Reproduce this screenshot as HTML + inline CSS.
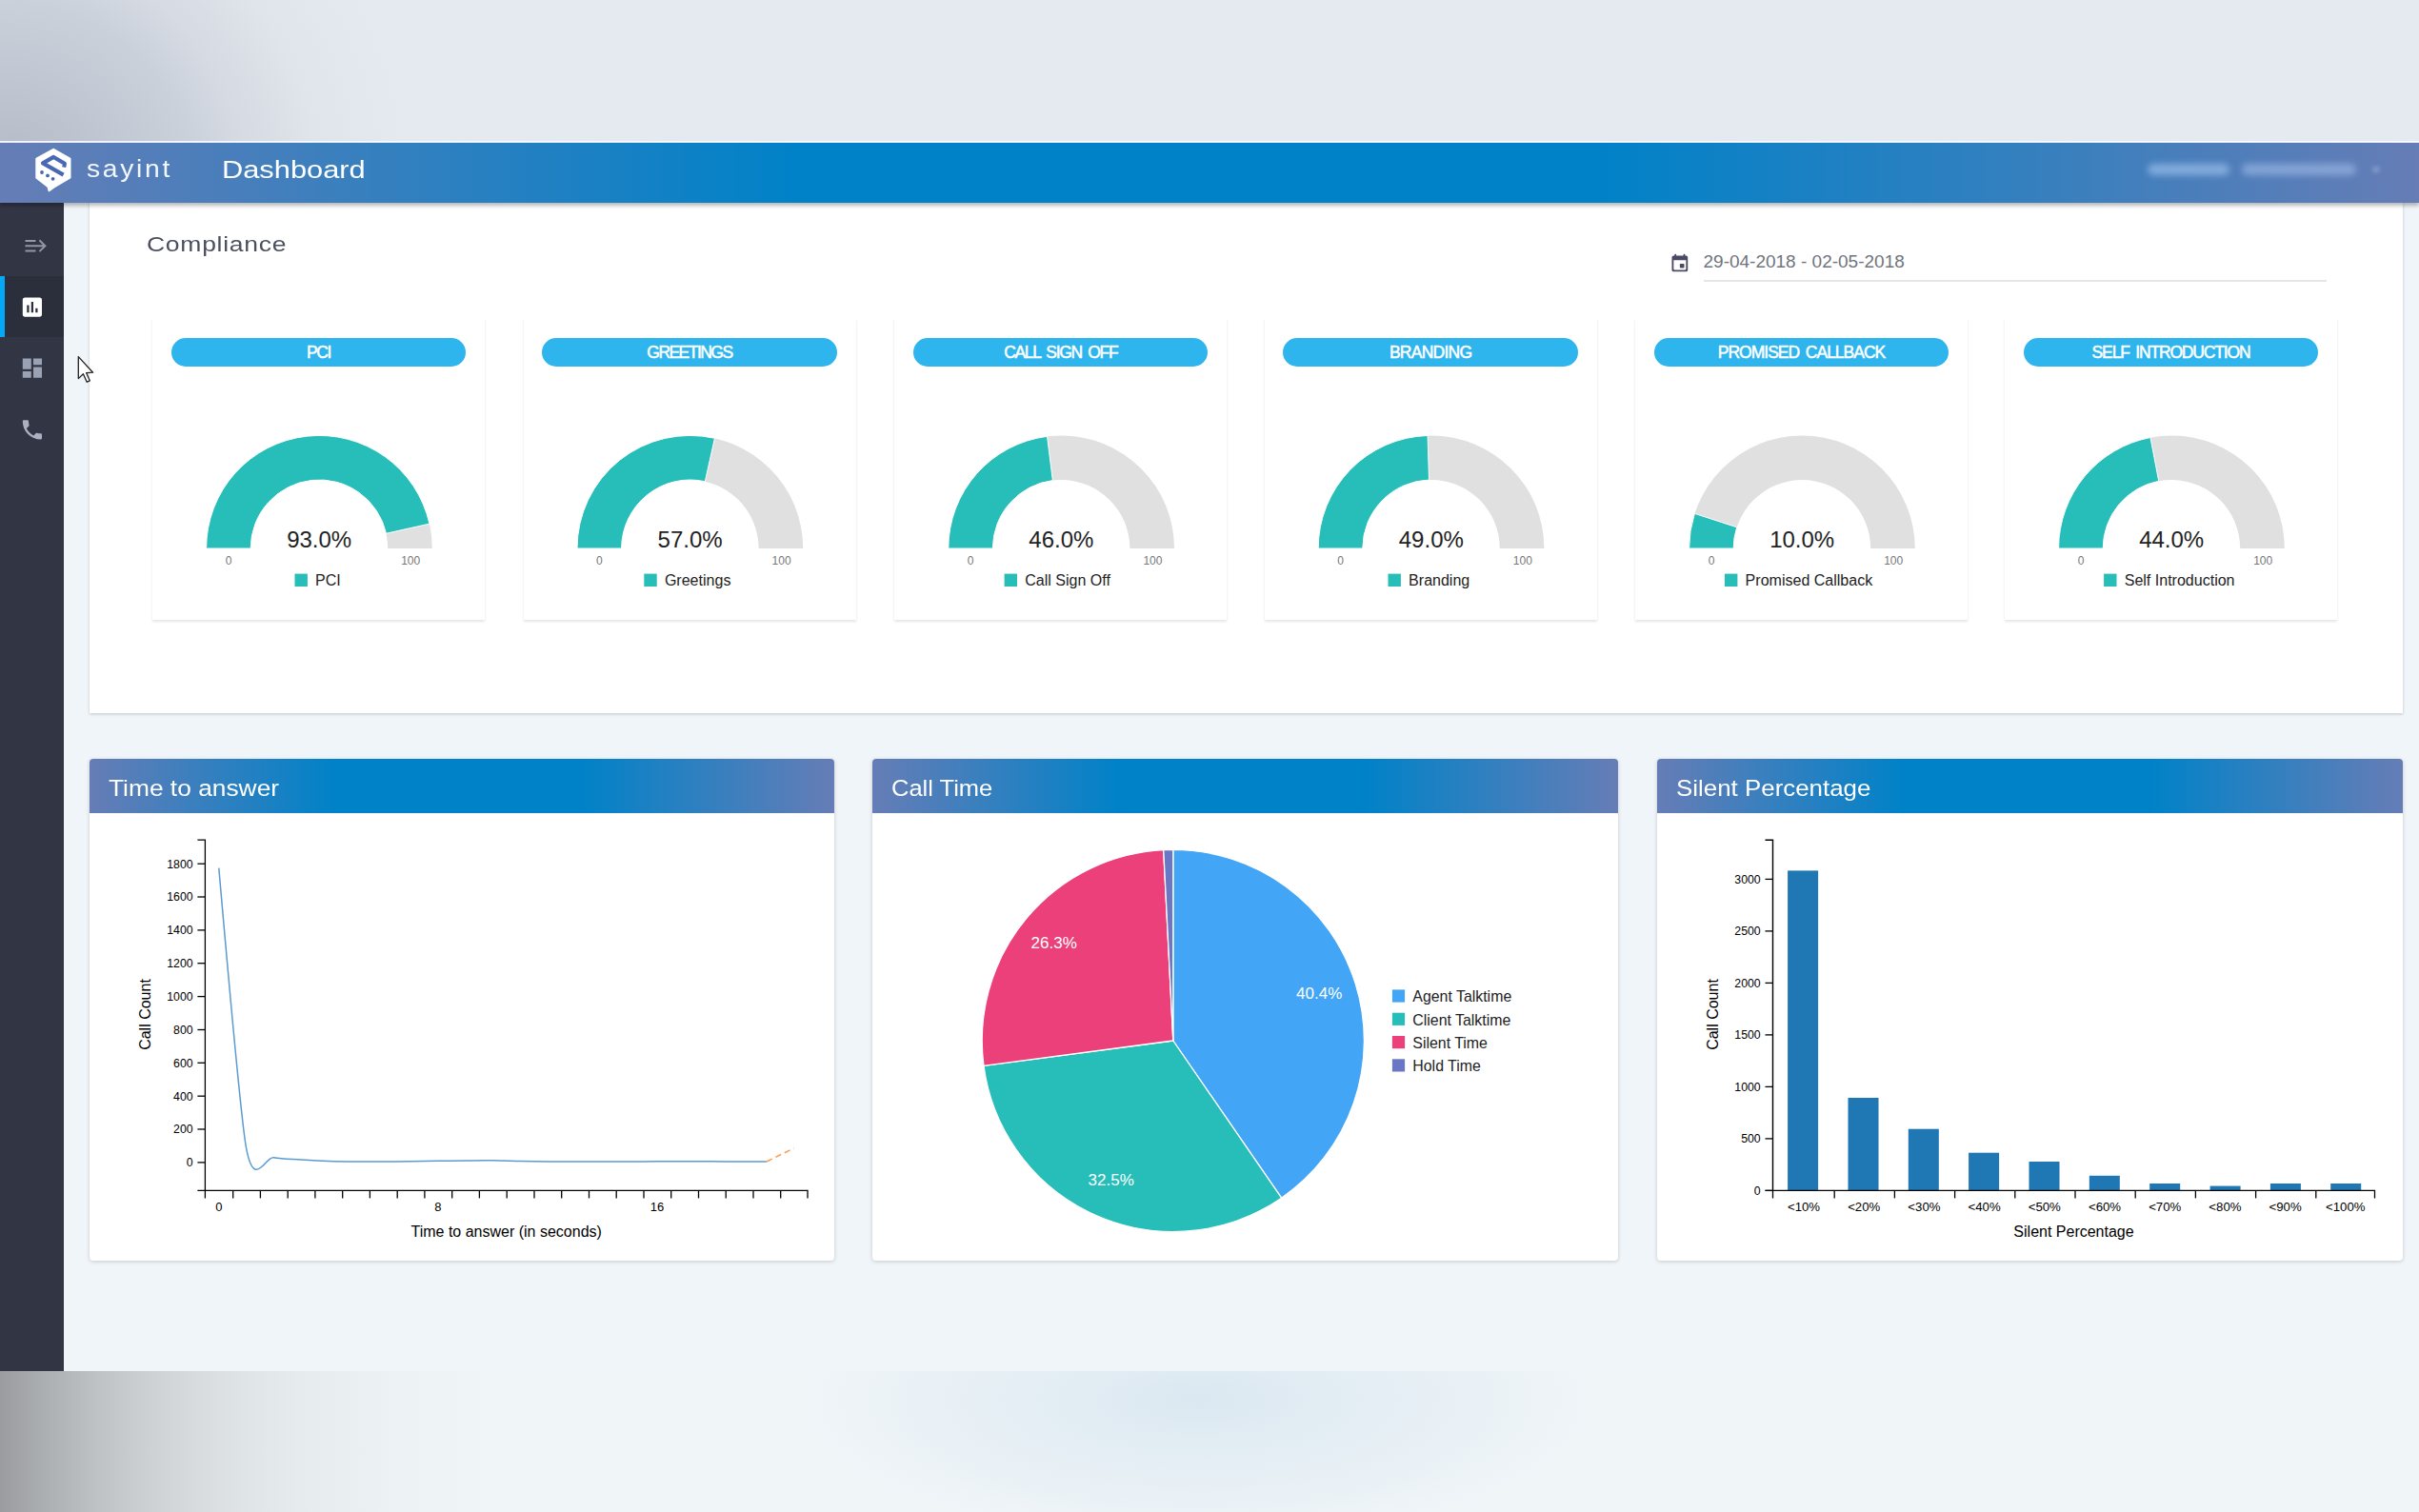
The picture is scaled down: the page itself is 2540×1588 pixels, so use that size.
<!DOCTYPE html>
<html lang="en"><head><meta charset="utf-8"><title>sayint Dashboard</title>
<style>
html,body{margin:0;padding:0}
body{width:2540px;height:1588px;position:relative;overflow:hidden;background:#f0f5f9;font-family:"Liberation Sans", Arial, sans-serif;}
.abs{position:absolute}
.t{position:absolute;white-space:nowrap;line-height:1;transform-origin:0 0}
svg{position:absolute;left:0;top:0;overflow:visible}
svg text{font-family:"Liberation Sans", Arial, sans-serif}
.card{position:absolute;background:#fff}
.gcard{position:absolute;top:334px;width:349px;height:317px;background:#fff;box-shadow:0 1.5px 2.5px rgba(0,0,0,.10),0 0 2px rgba(0,0,0,.022)}
.pill{position:absolute;left:19.6px;top:20.5px;width:309.5px;height:30.5px;border-radius:16px;background:#2fb5ee;color:#fff;text-align:center;font-weight:normal;-webkit-text-stroke:.5px #fff;font-size:17.5px;line-height:31px;white-space:nowrap}
.panel{position:absolute;top:797px;width:782px;height:527px;background:#fff;border-radius:4px;box-shadow:0 1px 4px rgba(0,0,0,.18)}
.phead{position:absolute;left:0;top:0;right:0;height:57px;border-radius:4px 4px 0 0;background:linear-gradient(to right,#667db6 0%,#0082c8 33%,#0082c8 66%,#667db6 100%)}
.ptitle{position:absolute;left:20px;top:1.8px;color:#fff;font-size:24.5px;line-height:57px;white-space:nowrap;transform-origin:0 50%}
</style></head><body>

<div class="abs" id="bgtop" style="left:0;top:0;width:2540px;height:149px;background:radial-gradient(ellipse 430px 420px at 0px 200px,#b3b9c6 0%,#b7bdc9 12%,#c4cad5 34%,#cbd1da 48%,#d5dae3 60%,#e0e5eb 78%,#e4eaf0 100%),#e4eaf0"></div>
<div class="abs" id="bgbot" style="left:0;top:1440px;width:2540px;height:148px;background:linear-gradient(to right,#9a9c9f 0px,#aeb1b4 52px,#c0c3c6 105px,#cdd1d4 157px,#d8dcdf 210px,#e0e5e7 262px,#e6ebed 315px,#edf2f4 420px,rgba(240,245,247,0) 525px),radial-gradient(ellipse 420px 150px at 1260px 30px,#dbe8f1 0%,rgba(240,245,248,0) 100%),#f0f5f8"></div>
<div class="abs" style="left:67px;top:212px;width:2473px;height:1228px;background:#f0f5f9"></div>
<div class="card" id="compliance" style="left:93.5px;top:205px;width:2429px;height:543.5px;box-shadow:0 1px 3px rgba(0,0,0,.2)"></div>
<div class="t" style="left:153.6px;top:246.2px;font-size:22px;color:#4b5060;letter-spacing:.6px;transform:scaleX(1.205)">Compliance</div>
<svg width="2540" height="1588" style="pointer-events:none"><g transform="translate(1752.7,264.8) scale(0.93)" fill="#4a4a66"><path d="M16 13h-3c-.55 0-1 .45-1 1v3c0 .55.45 1 1 1h3c.55 0 1-.45 1-1v-3c0-.55-.45-1-1-1zm0-10v1H8V3c0-.55-.45-1-1-1s-1 .45-1 1v1H5c-1.11 0-1.99.9-1.99 2L3 20c0 1.1.89 2 2 2h14c1.1 0 2-.9 2-2V6c0-1.1-.9-2-2-2h-1V3c0-.55-.45-1-1-1s-1 .45-1 1zm2 17H6c-.55 0-1-.45-1-1V9h14v10c0 .55-.45 1-1 1z"/></g></svg>
<div class="t" style="left:1788.5px;top:264.5px;font-size:19px;color:#70757d">29-04-2018 - 02-05-2018</div>
<div class="abs" style="left:1788.5px;top:294.2px;width:654.5px;height:1.7px;background:#e4e6ea"></div>
<div class="gcard" style="left:160.2px"><div class="pill" style="letter-spacing:-1.4000000000000004px;word-spacing:2.8px">PCI</div></div>
<div class="gcard" style="left:549.6px"><div class="pill" style="letter-spacing:-1.5374999999999996px;word-spacing:2.8px">GREETINGS</div></div>
<div class="gcard" style="left:939.4px"><div class="pill" style="letter-spacing:-1.308333333333333px;word-spacing:2.8px">CALL SIGN OFF</div></div>
<div class="gcard" style="left:1327.8px"><div class="pill" style="letter-spacing:-0.7428571428571432px;word-spacing:2.8px">BRANDING</div></div>
<div class="gcard" style="left:1717.2px"><div class="pill" style="letter-spacing:-0.9937499999999997px;word-spacing:2.8px">PROMISED CALLBACK</div></div>
<div class="gcard" style="left:2105.2px"><div class="pill" style="letter-spacing:-1.1625000000000008px;word-spacing:2.8px">SELF INTRODUCTION</div></div>
<svg width="2540" height="1588">
<path d="M216.60 576 A118.6 118.6 0 0 1 453.80 576 L407.20 576 A72 72 0 0 0 263.20 576 Z" fill="#e0e0e0"/>
<path d="M216.60 576 A118.6 118.6 0 0 1 450.94 550.13 L405.47 560.29 A72 72 0 0 0 263.20 576 Z" fill="#27bdb8" stroke="#fff" stroke-width="1"/>
<text x="335.2" y="574.5" text-anchor="middle" font-size="24" fill="#222">93.0%</text>
<text x="240.0" y="592.8" text-anchor="middle" font-size="12" fill="#777">0</text>
<text x="431.2" y="592.8" text-anchor="middle" font-size="12" fill="#777">100</text>
<rect x="309.5" y="602.6" width="13.4" height="13.4" fill="#27bdb8"/>
<text x="331.1" y="615.4" font-size="16.05" fill="#222">PCI</text>
<path d="M606.00 576 A118.6 118.6 0 0 1 843.20 576 L796.60 576 A72 72 0 0 0 652.60 576 Z" fill="#e0e0e0"/>
<path d="M606.00 576 A118.6 118.6 0 0 1 750.47 460.26 L740.31 505.73 A72 72 0 0 0 652.60 576 Z" fill="#27bdb8" stroke="#fff" stroke-width="1"/>
<text x="724.6" y="574.5" text-anchor="middle" font-size="24" fill="#222">57.0%</text>
<text x="629.4" y="592.8" text-anchor="middle" font-size="12" fill="#777">0</text>
<text x="820.6" y="592.8" text-anchor="middle" font-size="12" fill="#777">100</text>
<rect x="676.3" y="602.6" width="13.4" height="13.4" fill="#27bdb8"/>
<text x="697.9" y="615.4" font-size="16.05" fill="#222">Greetings</text>
<path d="M995.80 576 A118.6 118.6 0 0 1 1233.00 576 L1186.40 576 A72 72 0 0 0 1042.40 576 Z" fill="#e0e0e0"/>
<path d="M995.80 576 A118.6 118.6 0 0 1 1099.54 458.34 L1105.38 504.57 A72 72 0 0 0 1042.40 576 Z" fill="#27bdb8" stroke="#fff" stroke-width="1"/>
<text x="1114.4" y="574.5" text-anchor="middle" font-size="24" fill="#222">46.0%</text>
<text x="1019.2" y="592.8" text-anchor="middle" font-size="12" fill="#777">0</text>
<text x="1210.4" y="592.8" text-anchor="middle" font-size="12" fill="#777">100</text>
<rect x="1054.6" y="602.6" width="13.4" height="13.4" fill="#27bdb8"/>
<text x="1076.2" y="615.4" font-size="16.05" fill="#222">Call Sign Off</text>
<path d="M1384.20 576 A118.6 118.6 0 0 1 1621.40 576 L1574.80 576 A72 72 0 0 0 1430.80 576 Z" fill="#e0e0e0"/>
<path d="M1384.20 576 A118.6 118.6 0 0 1 1499.07 457.46 L1500.54 504.04 A72 72 0 0 0 1430.80 576 Z" fill="#27bdb8" stroke="#fff" stroke-width="1"/>
<text x="1502.8" y="574.5" text-anchor="middle" font-size="24" fill="#222">49.0%</text>
<text x="1407.6" y="592.8" text-anchor="middle" font-size="12" fill="#777">0</text>
<text x="1598.8" y="592.8" text-anchor="middle" font-size="12" fill="#777">100</text>
<rect x="1457.5" y="602.6" width="13.4" height="13.4" fill="#27bdb8"/>
<text x="1479.1" y="615.4" font-size="16.05" fill="#222">Branding</text>
<path d="M1773.60 576 A118.6 118.6 0 0 1 2010.80 576 L1964.20 576 A72 72 0 0 0 1820.20 576 Z" fill="#e0e0e0"/>
<path d="M1773.60 576 A118.6 118.6 0 0 1 1779.40 539.35 L1823.72 553.75 A72 72 0 0 0 1820.20 576 Z" fill="#27bdb8" stroke="#fff" stroke-width="1"/>
<text x="1892.2" y="574.5" text-anchor="middle" font-size="24" fill="#222">10.0%</text>
<text x="1797.0" y="592.8" text-anchor="middle" font-size="12" fill="#777">0</text>
<text x="1988.2" y="592.8" text-anchor="middle" font-size="12" fill="#777">100</text>
<rect x="1811.0" y="602.6" width="13.4" height="13.4" fill="#27bdb8"/>
<text x="1832.6" y="615.4" font-size="16.05" fill="#222">Promised Callback</text>
<path d="M2161.60 576 A118.6 118.6 0 0 1 2398.80 576 L2352.20 576 A72 72 0 0 0 2208.20 576 Z" fill="#e0e0e0"/>
<path d="M2161.60 576 A118.6 118.6 0 0 1 2257.98 459.50 L2266.71 505.28 A72 72 0 0 0 2208.20 576 Z" fill="#27bdb8" stroke="#fff" stroke-width="1"/>
<text x="2280.2" y="574.5" text-anchor="middle" font-size="24" fill="#222">44.0%</text>
<text x="2185.0" y="592.8" text-anchor="middle" font-size="12" fill="#777">0</text>
<text x="2376.2" y="592.8" text-anchor="middle" font-size="12" fill="#777">100</text>
<rect x="2209.1" y="602.6" width="13.4" height="13.4" fill="#27bdb8"/>
<text x="2230.7" y="615.4" font-size="16.05" fill="#222">Self Introduction</text>
</svg>
<div class="panel" style="left:94.2px;width:781.6px"><div class="phead"></div><div class="ptitle" style="transform:scaleX(1.075)">Time to answer</div></div>
<div class="panel" style="left:916.2px;width:783.2px"><div class="phead"></div><div class="ptitle" style="transform:scaleX(1.04)">Call Time</div></div>
<div class="panel" style="left:1740.3px;width:782.3px"><div class="phead"></div><div class="ptitle" style="transform:scaleX(1.057)">Silent Percentage</div></div>
<svg width="2540" height="1588" font-size="13" fill="#000">
<path d="M207.4 882.2 H215.4 V1250.4 H207.4" fill="none" stroke="#000" stroke-width="1.3"/>
<path d="M215.4 1258.4 V1250.4 H848.0 V1258.4" fill="none" stroke="#000" stroke-width="1.3"/>
<path d="M207.4 1220.9 H215.4" stroke="#000" stroke-width="1.3"/>
<text x="202.6" y="1225.3" text-anchor="end" font-size="12.3">0</text>
<path d="M207.4 1186.0 H215.4" stroke="#000" stroke-width="1.3"/>
<text x="202.6" y="1190.4" text-anchor="end" font-size="12.3">200</text>
<path d="M207.4 1151.2 H215.4" stroke="#000" stroke-width="1.3"/>
<text x="202.6" y="1155.6" text-anchor="end" font-size="12.3">400</text>
<path d="M207.4 1116.3 H215.4" stroke="#000" stroke-width="1.3"/>
<text x="202.6" y="1120.7" text-anchor="end" font-size="12.3">600</text>
<path d="M207.4 1081.5 H215.4" stroke="#000" stroke-width="1.3"/>
<text x="202.6" y="1085.9" text-anchor="end" font-size="12.3">800</text>
<path d="M207.4 1046.6 H215.4" stroke="#000" stroke-width="1.3"/>
<text x="202.6" y="1051.0" text-anchor="end" font-size="12.3">1000</text>
<path d="M207.4 1011.7 H215.4" stroke="#000" stroke-width="1.3"/>
<text x="202.6" y="1016.1" text-anchor="end" font-size="12.3">1200</text>
<path d="M207.4 976.9 H215.4" stroke="#000" stroke-width="1.3"/>
<text x="202.6" y="981.3" text-anchor="end" font-size="12.3">1400</text>
<path d="M207.4 942.0 H215.4" stroke="#000" stroke-width="1.3"/>
<text x="202.6" y="946.4" text-anchor="end" font-size="12.3">1600</text>
<path d="M207.4 907.2 H215.4" stroke="#000" stroke-width="1.3"/>
<text x="202.6" y="911.6" text-anchor="end" font-size="12.3">1800</text>
<path d="M244.7 1250.4 V1258.4" stroke="#000" stroke-width="1.3"/>
<path d="M273.4 1250.4 V1258.4" stroke="#000" stroke-width="1.3"/>
<path d="M302.2 1250.4 V1258.4" stroke="#000" stroke-width="1.3"/>
<path d="M330.9 1250.4 V1258.4" stroke="#000" stroke-width="1.3"/>
<path d="M359.7 1250.4 V1258.4" stroke="#000" stroke-width="1.3"/>
<path d="M388.4 1250.4 V1258.4" stroke="#000" stroke-width="1.3"/>
<path d="M417.2 1250.4 V1258.4" stroke="#000" stroke-width="1.3"/>
<path d="M445.9 1250.4 V1258.4" stroke="#000" stroke-width="1.3"/>
<path d="M474.7 1250.4 V1258.4" stroke="#000" stroke-width="1.3"/>
<path d="M503.4 1250.4 V1258.4" stroke="#000" stroke-width="1.3"/>
<path d="M532.2 1250.4 V1258.4" stroke="#000" stroke-width="1.3"/>
<path d="M561.0 1250.4 V1258.4" stroke="#000" stroke-width="1.3"/>
<path d="M589.7 1250.4 V1258.4" stroke="#000" stroke-width="1.3"/>
<path d="M618.5 1250.4 V1258.4" stroke="#000" stroke-width="1.3"/>
<path d="M647.2 1250.4 V1258.4" stroke="#000" stroke-width="1.3"/>
<path d="M676.0 1250.4 V1258.4" stroke="#000" stroke-width="1.3"/>
<path d="M704.7 1250.4 V1258.4" stroke="#000" stroke-width="1.3"/>
<path d="M733.5 1250.4 V1258.4" stroke="#000" stroke-width="1.3"/>
<path d="M762.2 1250.4 V1258.4" stroke="#000" stroke-width="1.3"/>
<path d="M791.0 1250.4 V1258.4" stroke="#000" stroke-width="1.3"/>
<path d="M819.7 1250.4 V1258.4" stroke="#000" stroke-width="1.3"/>
<text x="229.8" y="1272.4" text-anchor="middle">0</text>
<text x="459.8" y="1272.4" text-anchor="middle">8</text>
<text x="689.9" y="1272.4" text-anchor="middle">16</text>
<text x="531.7" y="1298.5" text-anchor="middle" font-size="16">Time to answer (in seconds)</text>
<text transform="translate(157.5,1065.5) rotate(-90)" text-anchor="middle" font-size="16">Call Count</text>
<path d="M229.78,911.69Q252.78,1175.15,258.53,1205.56C267.16,1251.18,278.66,1213.99,287.29,1215.85C295.91,1217.70,307.41,1217.39,316.04,1217.94C324.67,1218.49,336.17,1219.19,344.80,1219.51C353.42,1219.82,364.92,1219.95,373.55,1220.03C382.18,1220.11,393.68,1220.05,402.30,1220.03C410.93,1220.00,422.43,1219.96,431.06,1219.85C439.69,1219.75,451.19,1219.46,459.81,1219.33C468.44,1219.20,479.94,1219.06,488.57,1218.98C497.19,1218.90,508.70,1218.73,517.32,1218.81C525.95,1218.89,537.45,1219.32,546.08,1219.51C554.70,1219.69,566.21,1219.95,574.83,1220.03C583.46,1220.11,594.96,1220.03,603.59,1220.03C612.21,1220.03,623.71,1220.03,632.34,1220.03C640.97,1220.03,652.47,1220.05,661.10,1220.03C669.72,1220.00,681.22,1219.88,689.85,1219.85C698.48,1219.83,709.98,1219.85,718.60,1219.85C727.23,1219.85,738.73,1219.83,747.36,1219.85C755.99,1219.88,767.49,1220.00,776.11,1220.03Q781.86,1220.05,804.87,1220.03" fill="none" stroke="#5b9bcf" stroke-width="1.5"/>
<path d="M804.9 1220.0 L833.6 1206" fill="none" stroke="#ff9a4d" stroke-width="1.5" stroke-dasharray="6.5 4"/>
</svg>
<svg width="2540" height="1588">
<path d="M1231.8 1093.0 L1231.80 892.40 A200.6 200.6 0 0 1 1345.59 1258.20 Z" fill="#42a5f5" stroke="#fff" stroke-width="1.3"/>
<path d="M1231.8 1093.0 L1345.59 1258.20 A200.6 200.6 0 0 1 1032.94 1119.39 Z" fill="#27bdb8" stroke="#fff" stroke-width="1.3"/>
<path d="M1231.8 1093.0 L1032.94 1119.39 A200.6 200.6 0 0 1 1221.72 892.65 Z" fill="#ec407a" stroke="#fff" stroke-width="1.3"/>
<path d="M1231.8 1093.0 L1221.72 892.65 A200.6 200.6 0 0 1 1231.80 892.40 Z" fill="#6a77c4" stroke="#fff" stroke-width="1.3"/>
<text x="1385.2" y="1049.2" text-anchor="middle" font-size="17" fill="#fff">40.4%</text>
<text x="1106.7" y="995.5" text-anchor="middle" font-size="17" fill="#fff">26.3%</text>
<text x="1166.7" y="1245.4" text-anchor="middle" font-size="17" fill="#fff">32.5%</text>
<rect x="1461.9" y="1039.4" width="13.2" height="13.2" fill="#42a5f5"/>
<text x="1483.3" y="1052.2" font-size="15.9" fill="#222">Agent Talktime</text>
<rect x="1461.9" y="1063.7" width="13.2" height="13.2" fill="#27bdb8"/>
<text x="1483.3" y="1076.5" font-size="15.9" fill="#222">Client Talktime</text>
<rect x="1461.9" y="1088.0" width="13.2" height="13.2" fill="#ec407a"/>
<text x="1483.3" y="1100.8" font-size="15.9" fill="#222">Silent Time</text>
<rect x="1461.9" y="1112.3" width="13.2" height="13.2" fill="#6a77c4"/>
<text x="1483.3" y="1125.1" font-size="15.9" fill="#222">Hold Time</text>
</svg>
<svg width="2540" height="1588" font-size="13" fill="#000">
<path d="M1853.5 882.2 H1861.5 V1250.4 H1853.5" fill="none" stroke="#000" stroke-width="1.4"/>
<path d="M1853.5 1250.4 H1861.5" stroke="#000" stroke-width="1.3"/>
<text x="1848.7" y="1254.8" text-anchor="end" font-size="12.3">0</text>
<path d="M1853.5 1195.9 H1861.5" stroke="#000" stroke-width="1.3"/>
<text x="1848.7" y="1200.3" text-anchor="end" font-size="12.3">500</text>
<path d="M1853.5 1141.4 H1861.5" stroke="#000" stroke-width="1.3"/>
<text x="1848.7" y="1145.8" text-anchor="end" font-size="12.3">1000</text>
<path d="M1853.5 1086.9 H1861.5" stroke="#000" stroke-width="1.3"/>
<text x="1848.7" y="1091.3" text-anchor="end" font-size="12.3">1500</text>
<path d="M1853.5 1032.4 H1861.5" stroke="#000" stroke-width="1.3"/>
<text x="1848.7" y="1036.8" text-anchor="end" font-size="12.3">2000</text>
<path d="M1853.5 977.9 H1861.5" stroke="#000" stroke-width="1.3"/>
<text x="1848.7" y="982.3" text-anchor="end" font-size="12.3">2500</text>
<path d="M1853.5 923.4 H1861.5" stroke="#000" stroke-width="1.3"/>
<text x="1848.7" y="927.8" text-anchor="end" font-size="12.3">3000</text>
<rect x="1877.1" y="914.4" width="32" height="336.0" fill="#1f77b4"/>
<text x="1894.0" y="1272.4" text-anchor="middle" font-size="13.2">&lt;10%</text>
<rect x="1940.5" y="1153.0" width="32" height="97.4" fill="#1f77b4"/>
<text x="1957.2" y="1272.4" text-anchor="middle" font-size="13.2">&lt;20%</text>
<rect x="2003.8" y="1185.7" width="32" height="64.7" fill="#1f77b4"/>
<text x="2020.4" y="1272.4" text-anchor="middle" font-size="13.2">&lt;30%</text>
<rect x="2067.1" y="1210.7" width="32" height="39.7" fill="#1f77b4"/>
<text x="2083.6" y="1272.4" text-anchor="middle" font-size="13.2">&lt;40%</text>
<rect x="2130.5" y="1220.0" width="32" height="30.4" fill="#1f77b4"/>
<text x="2146.8" y="1272.4" text-anchor="middle" font-size="13.2">&lt;50%</text>
<rect x="2193.8" y="1234.8" width="32" height="15.6" fill="#1f77b4"/>
<text x="2210.0" y="1272.4" text-anchor="middle" font-size="13.2">&lt;60%</text>
<rect x="2257.2" y="1243.0" width="32" height="7.4" fill="#1f77b4"/>
<text x="2273.2" y="1272.4" text-anchor="middle" font-size="13.2">&lt;70%</text>
<rect x="2320.6" y="1245.6" width="32" height="4.8" fill="#1f77b4"/>
<text x="2336.4" y="1272.4" text-anchor="middle" font-size="13.2">&lt;80%</text>
<rect x="2383.9" y="1243.0" width="32" height="7.4" fill="#1f77b4"/>
<text x="2399.6" y="1272.4" text-anchor="middle" font-size="13.2">&lt;90%</text>
<rect x="2447.2" y="1243.0" width="32" height="7.4" fill="#1f77b4"/>
<text x="2462.8" y="1272.4" text-anchor="middle" font-size="13.2">&lt;100%</text>
<path d="M1861.5 1258.4 V1250.4 H2493.5 V1258.4" fill="none" stroke="#000" stroke-width="1.3"/>
<path d="M1926.2 1250.4 V1258.4" stroke="#000" stroke-width="1.3"/>
<path d="M1989.4 1250.4 V1258.4" stroke="#000" stroke-width="1.3"/>
<path d="M2052.6 1250.4 V1258.4" stroke="#000" stroke-width="1.3"/>
<path d="M2115.8 1250.4 V1258.4" stroke="#000" stroke-width="1.3"/>
<path d="M2179.0 1250.4 V1258.4" stroke="#000" stroke-width="1.3"/>
<path d="M2242.2 1250.4 V1258.4" stroke="#000" stroke-width="1.3"/>
<path d="M2305.4 1250.4 V1258.4" stroke="#000" stroke-width="1.3"/>
<path d="M2368.6 1250.4 V1258.4" stroke="#000" stroke-width="1.3"/>
<path d="M2431.8 1250.4 V1258.4" stroke="#000" stroke-width="1.3"/>
<text x="2177.5" y="1298.5" text-anchor="middle" font-size="16">Silent Percentage</text>
<text transform="translate(1803.8,1065.5) rotate(-90)" text-anchor="middle" font-size="16">Call Count</text>
</svg>
<div class="abs" id="sidebar" style="left:0;top:212px;width:66.5px;height:1228px;background:#323544"></div>
<div class="abs" style="left:0;top:290.3px;width:66.5px;height:64.2px;background:#2b2e3b"></div>
<div class="abs" style="left:0;top:290.3px;width:5px;height:64.2px;background:#03a9f4"></div>
<svg width="2540" height="1588">
<g stroke="#9297a4" stroke-width="2" fill="none"><path d="M26.5 253H37.5M26.5 258.2H46.6M26.5 263.6H37.5M41.4 252.3L47.4 258.2L41.4 264.1"/></g>
<g transform="translate(20.43,309.23) scale(1.1222)" fill="#fff"><path d="M19 3H5c-1.1 0-2 .9-2 2v14c0 1.1.9 2 2 2h14c1.1 0 2-.9 2-2V5c0-1.1-.9-2-2-2zM9 17H7v-7h2v7zm4 0h-2V7h2v10zm4 0h-2v-4h2v4z"/></g>
<g transform="translate(20.43,373.23) scale(1.1222)" fill="#9aa2b4"><path d="M3 13h8V3H3v10zm0 8h8v-6H3v6zm10 0h8V11h-8v10zm0-18v6h8V3h-8z"/></g>
<g transform="translate(20.43,437.93) scale(1.1222)" fill="#aab1c2"><path d="M6.62 10.79c1.44 2.83 3.76 5.14 6.59 6.59l2.2-2.2c.27-.27.67-.36 1.02-.24 1.12.37 2.33.57 3.57.57.55 0 1 .45 1 1V20c0 .55-.45 1-1 1-9.39 0-17-7.61-17-17 0-.55.45-1 1-1h3.5c.55 0 1 .45 1 1 0 1.25.2 2.45.57 3.57.11.35.03.74-.25 1.02l-2.2 2.2z"/></g>
<path d="M82.3 374.6V397.6L87.4 392.8L91.2 401.2L94.3 399.8L90.6 391.6L97.6 391.2Z" fill="#fff" stroke="#222" stroke-width="1.3" stroke-linejoin="round"/>
</svg>
<div class="abs" id="header" style="left:0;top:149px;width:2540px;height:63.5px;background:linear-gradient(to right,#667db6 0%,#0082c8 33%,#0082c8 66%,#667db6 100%);box-shadow:0 2.5px 4px rgba(0,0,0,.28)"></div>
<div class="abs" style="left:0;top:148.3px;width:2540px;height:1.6px;background:rgba(255,255,255,.85)"></div>
<svg width="2540" height="1588">
<path d="M56.2 156.9L73.4 166.8V186.6L56.4 196.6L51.6 200.2L50.6 196.2L38.4 186.6V166.8Z" fill="#fff" stroke="#fff" stroke-width="2.2" stroke-linejoin="round"/>
<path d="M67.2 175.6L67.9 171.8L56.3 164.9L45 171.4L66.6 183.6" fill="none" stroke="#4868b6" stroke-width="4.1" stroke-linejoin="round" stroke-linecap="butt"/>
<circle cx="44" cy="181" r="1.9" fill="#4868b6"/><circle cx="50" cy="184.4" r="1.9" fill="#4868b6"/><circle cx="55.6" cy="187.8" r="1.9" fill="#4868b6"/>
</svg>
<div class="t" style="left:91px;top:165.4px;font-size:25px;letter-spacing:2.4px;color:#f2f7ff;transform:scaleX(1.13)">sayint</div>
<div class="t" style="left:233.2px;top:164.6px;font-size:26.6px;color:#fff;transform:scaleX(1.158)">Dashboard</div>
<div class="abs" style="left:2255px;top:171.5px;width:86px;height:12px;border-radius:6px;background:rgba(165,198,240,.62);filter:blur(3.5px)"></div>
<div class="abs" style="left:2354px;top:171.5px;width:120px;height:12px;border-radius:6px;background:rgba(165,192,235,.58);filter:blur(3.5px)"></div>
<div class="abs" style="left:2491px;top:174.5px;width:8px;height:6px;border-radius:3px;background:rgba(170,195,235,.45);filter:blur(2px)"></div>
</body></html>
